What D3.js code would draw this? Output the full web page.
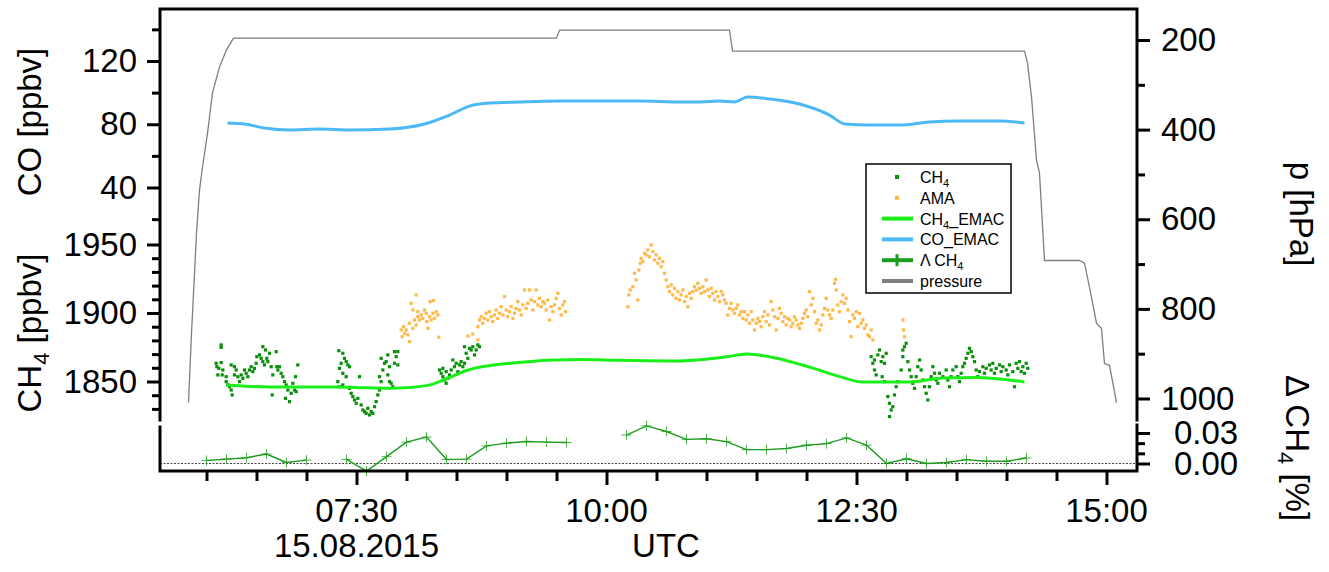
<!DOCTYPE html>
<html><head><meta charset="utf-8">
<script src="https://cdn.jsdelivr.net/npm/d3@7"></script>
<style>
html,body{margin:0;padding:0;background:#fff;}
svg{display:block;font-family:"Liberation Sans",Arial,sans-serif;}
</style></head><body>
<svg id="chart" width="1329" height="572"></svg>
<script>
// ---------------- DATA (time in minutes after 00:00 UTC, 15.08.2015) ----------------
const xTickLabels = ["07:30", "10:00", "12:30", "15:00"];
const dateLabel = "15.08.2015";
const coTicks = [40, 80, 120];
const coMinorTicks = [20, 60, 100, 140];
const ch4Ticks = [1850, 1900, 1950];
const ch4MinorTicks = [1830, 1840, 1860, 1870, 1880, 1890, 1910, 1920, 1930, 1940];
const pTicks = [200, 400, 600, 800, 1000];
const pMinorTicks = [300, 500, 700, 900];
const dTicks = [0.00, 0.03];
const dMinorTicks = [0.01, 0.02];
const legendLabels = ["CH4", "AMA", "CH4_EMAC", "CO_EMAC", "Λ CH4", "pressure"];

// pressure [hPa]
const pressure = [
  [349.2,1009],[351.0,855],[354.0,631],[355.8,535],[357.6,484],[360.6,408],[363.6,318],
  [367.8,260],[372.0,222],[376.2,196],[570.0,196],[571.8,178],[673.8,178],[675.6,225],
  [850.8,225],[852.6,251],[855.0,327],[858.0,468],[859.8,497],[862.8,692],[883.8,692],
  [886.8,698],[889.8,752],[894.0,832],[897.0,844],[898.8,922],[901.8,926],[906.0,1009]
];
// CO_EMAC [ppbv]
const coEmac = [
  [372.6,80.8],[382.8,80.2],[394.8,77.6],[409.8,76.4],[427.8,77.0],[445.8,76.4],[469.8,77.0],
  [490.8,80.2],[505.8,85.8],[517.8,91.5],[529.8,93.4],[547.8,94.1],[571.8,94.7],[595.8,94.7],
  [619.8,94.7],[643.8,94.1],[655.8,94.1],[667.8,94.7],[676.8,94.1],[684.6,97.2],[697.8,96.0],
  [715.8,92.8],[733.8,85.8],[742.8,80.2],[757.8,79.5],[775.8,79.5],[793.8,81.4],[811.8,82.0],
  [835.8,82.0],[850.8,80.8]
];
// CH4_EMAC [ppbv]
const ch4Emac = [
  [372.0,1847.5],[397.8,1846],[438.0,1846],[451.8,1845.5],[471.6,1845],[492.0,1847],[504.0,1852],
  [516.0,1858],[543.6,1863.5],[583.8,1866],[607.8,1865.5],[642.0,1865],[672.0,1868],[684.0,1870],
  [702.0,1867],[721.8,1860.5],[741.6,1853],[753.6,1849.6],[781.8,1849.6],[801.6,1852.5],
  [822.0,1853],[850.8,1849.6]
];
// Δ CH4 [%]  (null = no value)
const deltaCh4 = [
  [360,0.003],[372,0.0043],[384,0.0057],[396,0.0093],[408,0.001],[420,0.0033],[432,null],
  [444,0.004],[456,-0.0075],[468,0.0067],[480,0.021],[492,0.026],[504,0.004],[516,0.0043],
  [528,0.0173],[540,0.020],[552,0.0217],[564,0.021],[576,0.0207],[588,null],[600,null],
  [612,0.028],[624,0.037],[636,0.0315],[648,0.0237],[660,0.0243],[672,0.0215],[684,0.0136],
  [696,0.0136],[708,0.0148],[720,0.018],[732,0.0196],[744,0.0252],[756,0.018],[768,0.0],
  [780,0.0047],[792,0.0],[804,0.001],[816,0.0038],[828,0.0022],[840,0.0022],[852,0.0054]
];
// CH4 in-situ [ppbv]
const ch4Obs = [
  [368.8,1876.7],[368.8,1874.9],[365.8,1863.3],[366.2,1860.8],[367.4,1859.6],[368.8,1863.8],[369.8,1858.4],
  [366.8,1854.8],[369.4,1854.8],[371.8,1853.5],[371.8,1849.9],[372.8,1847.5],[373.8,1846.2],[374.8,1843.8],
  [375.4,1840.2],[374.8,1862.1],[376.8,1860.8],[377.8,1858.4],[376.8,1854.8],[378.8,1853.5],[380.8,1854.8],
  [379.8,1849.9],[381.8,1852.3],[382.8,1858.4],[383.8,1856.0],[384.8,1853.5],[385.8,1858.4],[386.8,1860.8],
  [387.8,1857.2],[388.8,1859.6],[389.8,1863.3],[390.2,1868.1],[391.8,1869.4],[393.8,1875.4],[392.8,1866.9],
  [393.8,1864.5],[394.8,1862.1],[395.4,1873.0],[396.2,1866.9],[396.8,1864.5],[397.8,1870.6],[398.8,1860.8],
  [399.8,1854.8],[399.4,1840.2],[401.8,1871.8],[402.2,1860.8],[402.8,1858.4],[403.8,1860.8],[404.8,1856.0],
  [405.8,1853.5],[406.8,1849.9],[407.8,1847.5],[408.8,1843.8],[407.4,1837.7],[409.8,1835.3],[410.8,1841.4],
  [411.8,1848.7],[412.8,1843.8],[413.8,1842.6],[413.4,1853.5],[414.8,1862.1],
  [439.4,1872.5],[441.8,1870.6],[442.8,1866.9],[443.8,1864.5],[444.8,1862.1],[445.8,1860.8],[440.8,1863.3],
  [439.8,1859.6],[441.8,1856.0],[443.8,1853.5],[438.8,1849.9],[439.8,1846.2],[441.8,1847.5],[445.8,1845.0],
  [446.8,1841.4],[447.8,1839.0],[448.8,1836.5],[450.8,1837.7],[451.8,1853.5],[449.8,1834.1],[452.8,1832.9],
  [453.8,1829.2],[454.8,1828.0],[455.8,1826.8],[456.8,1830.4],[457.8,1825.6],[458.8,1828.0],[459.8,1826.8],
  [460.8,1831.6],[461.8,1835.3],[462.8,1840.2],[463.8,1843.8],[464.8,1849.9],[463.8,1853.5],[465.8,1858.4],
  [466.8,1863.3],[464.8,1866.9],[467.8,1864.5],[468.8,1869.4],[469.8,1860.8],[468.8,1854.8],[470.8,1848.7],
  [471.8,1846.2],[472.8,1863.3],[473.8,1868.1],[474.8,1871.8],[472.8,1871.8],[474.8,1862.1],[469.8,1850.0],
  [499.8,1858.4],[500.8,1856.0],[501.8,1853.5],[502.8,1851.1],[501.8,1859.6],[503.8,1857.2],[504.8,1852.3],
  [505.8,1854.8],[506.8,1858.4],[507.8,1865.7],[508.8,1860.8],[509.8,1863.3],[510.8,1857.2],[511.8,1862.1],
  [512.8,1864.5],[513.8,1860.8],[514.8,1863.3],[515.8,1870.6],[514.8,1875.4],[516.8,1866.9],[517.8,1874.2],
  [518.8,1873.0],[519.8,1875.4],[520.8,1869.4],[521.8,1873.0],[522.8,1876.7],[523.8,1875.4],[503.8,1848.7],
  [758.8,1868.1],[759.8,1863.3],[760.8,1858.4],[761.8,1854.8],[760.8,1865.7],[762.8,1869.4],[763.8,1873.0],
  [764.8,1864.5],[765.8,1868.1],[766.8,1863.3],[767.8,1870.6],[765.4,1853.5],[766.8,1849.9],[768.8,1839.0],
  [769.8,1834.1],[770.8,1829.2],[769.8,1824.4],[771.8,1831.6],[772.8,1840.2],[773.8,1846.2],[774.8,1849.9],
  [776.8,1858.4],[777.8,1868.1],[778.8,1875.4],[779.8,1877.9],[777.8,1873.0],[780.8,1864.5],[781.8,1858.4],
  [782.8,1853.5],[783.8,1848.7],[784.8,1845.0],[785.8,1853.5],[786.8,1860.8],[787.8,1865.7],[788.8,1858.4],
  [789.8,1851.1],[790.8,1846.2],[791.8,1841.4],[792.8,1836.5],[793.8,1846.2],[794.8,1853.5],[795.8,1860.8],
  [796.8,1856.0],[797.8,1851.1],[798.8,1848.7],[799.8,1856.0],[801.8,1853.5],[803.8,1858.4],[804.8,1851.1],
  [805.8,1846.2],[806.8,1853.5],[807.8,1858.4],[809.8,1860.8],[810.8,1853.5],[811.8,1849.9],[812.8,1856.0],
  [813.8,1860.8],[814.8,1863.3],[815.8,1866.9],[816.8,1870.6],[817.8,1874.2],[818.8,1871.8],[819.8,1868.1],
  [820.8,1864.5],[821.8,1858.4],[822.8,1853.5],[823.8,1857.2],[825.8,1860.8],[826.8,1856.0],[827.8,1859.6],
  [829.8,1862.1],[830.8,1858.4],[831.8,1863.3],[832.8,1856.0],[833.8,1859.6],[835.8,1862.1],[836.8,1857.2],
  [837.8,1860.8],[839.8,1858.4],[840.8,1854.8],[841.8,1862.1],[843.8,1857.2],[844.8,1846.2],[845.8,1863.3],
  [846.8,1859.6],[847.8,1864.5],[848.8,1857.2],[849.8,1860.8],[850.8,1856.0],[851.8,1863.3],[852.8,1859.6]
];
// AMA [ppbv]
const amaObs = [
  [476.8,1887.6],[477.4,1882.7],[478.2,1890.0],[478.8,1885.2],[479.8,1887.6],[480.8,1884.0],[481.8,1879.1],
  [482.8,1907.1],[481.8,1892.5],[483.8,1888.8],[484.8,1894.9],[485.8,1913.2],[485.8,1891.3],[486.8,1897.3],
  [487.8,1894.9],[488.8,1898.6],[489.8,1896.1],[490.8,1902.2],[491.8,1899.8],[492.2,1893.7],[492.8,1888.8],
  [493.8,1897.3],[494.2,1908.3],[494.8,1894.9],[495.8,1899.8],[496.2,1909.0],[496.8,1896.1],[497.8,1901.0],
  [498.8,1898.6],[499.4,1882.3],[483.8,1902.2],[486.8,1901.0],
  [516.8,1883.2],[519.8,1884.7],[522.8,1880.3],[522.8,1890.0],[523.8,1894.9],[524.8,1897.3],[525.8,1892.5],
  [526.8,1896.1],[527.8,1899.8],[528.8,1894.9],[529.8,1901.0],[530.8,1897.3],[531.8,1893.7],[532.8,1898.6],
  [533.8,1902.2],[534.8,1896.1],[535.8,1899.8],[536.8,1904.6],[537.8,1898.6],[538.8,1912.0],[539.8,1902.2],
  [540.8,1897.3],[541.8,1901.0],[542.8,1904.6],[543.8,1896.1],[544.8,1899.8],[545.8,1903.4],[546.8,1908.3],
  [547.8,1902.2],[548.8,1898.6],[549.8,1905.9],[550.8,1916.8],[551.8,1903.4],[552.8,1907.1],[553.8,1916.8],
  [554.8,1909.5],[555.8,1902.2],[556.8,1908.3],[557.8,1916.8],[558.8,1905.9],[559.8,1910.7],[560.8,1904.6],
  [561.8,1908.3],[562.8,1907.1],[563.8,1902.2],[564.8,1909.5],[565.8,1894.9],[566.8,1904.6],[567.8,1901.0],
  [568.8,1905.9],[569.8,1910.7],[570.8,1914.4],[571.8,1903.4],[572.8,1898.6],[573.8,1905.9],[574.8,1908.3],
  [575.4,1901.0],
  [612.8,1904.6],[613.4,1913.2],[614.2,1916.8],[615.8,1919.2],[616.8,1929.0],[617.8,1924.1],[618.8,1909.5],
  [619.4,1931.4],[620.2,1936.3],[620.8,1939.9],[621.8,1937.5],[622.8,1943.6],[623.8,1942.4],[624.8,1946.0],
  [625.8,1941.1],[626.8,1949.7],[627.8,1944.8],[628.8,1938.7],[629.8,1942.4],[630.8,1936.3],[631.8,1939.9],
  [632.8,1933.8],[633.8,1937.5],[634.8,1929.0],[635.8,1924.1],[636.8,1919.2],[637.8,1915.6],[638.8,1920.5],
  [639.8,1913.2],[640.8,1918.0],[641.8,1910.7],[642.8,1915.6],[643.8,1909.5],[644.8,1913.2],[645.8,1916.8],
  [646.8,1908.3],[647.8,1912.0],[648.8,1904.6],[649.8,1914.4],[650.8,1910.7],[651.8,1915.6],[652.8,1919.2],
  [653.8,1916.8],[654.8,1921.7],[655.8,1918.0],[656.8,1914.4],[657.8,1919.2],[658.8,1915.6],[659.8,1924.1],
  [660.8,1916.8],[661.8,1912.0],[662.8,1918.0],[663.8,1914.4],[664.8,1909.5],[665.8,1915.6],[666.8,1912.0],
  [667.8,1908.3],[668.8,1915.6],[669.8,1913.2],[670.8,1909.5],[671.8,1907.1],[672.8,1898.6],[673.8,1903.4],
  [674.8,1907.1],[675.8,1902.2],[676.8,1899.8],[677.8,1903.4],[678.8,1905.9],[679.8,1898.6],[680.8,1901.0],
  [681.8,1896.1],[682.8,1901.0],[683.8,1894.9],[684.8,1898.6],[685.8,1892.5],[686.8,1901.0],[687.8,1894.9],
  [688.8,1887.6],[689.8,1892.5],[690.8,1896.1],[691.8,1893.7],[692.8,1890.0],[693.8,1897.3],[694.8,1901.0],
  [695.8,1893.7],[696.8,1898.6],[697.8,1891.3],[698.8,1908.3],[699.8,1902.2],[700.8,1897.3],[701.8,1887.6],
  [702.8,1896.1],[703.8,1903.4],[704.8,1899.8],[705.8,1893.7],[706.8,1897.3],[707.8,1891.3],[708.8,1896.1],
  [709.8,1894.9],[710.8,1890.0],[711.8,1892.5],[712.8,1897.3],[713.8,1894.9],[714.8,1891.3],[715.8,1888.8],
  [716.8,1892.5],[717.8,1896.1],[718.8,1899.8],[719.8,1902.2],[720.8,1897.3],[721.8,1915.6],[722.8,1905.9],
  [723.8,1910.7],[724.8,1901.0],[725.8,1892.5],[726.8,1894.9],[727.8,1887.6],[728.8,1891.3],[729.8,1898.6],
  [730.8,1903.4],[731.8,1910.7],[732.8,1902.2],[733.8,1898.6],[734.8,1896.1],[735.8,1902.2],[736.8,1921.7],
  [737.4,1924.6],[737.8,1916.8],[738.8,1905.9],[739.8,1901.0],[740.8,1908.3],[741.8,1913.2],[742.8,1907.1],
  [743.8,1910.7],[744.8,1902.2],[745.8,1893.7],[746.8,1882.7],[747.8,1898.6],[748.8,1896.1],[749.8,1901.0],
  [750.8,1890.0],[751.8,1899.8],[752.8,1892.5],[753.8,1894.9],[754.8,1888.8],[755.8,1891.3],[756.8,1884.0],
  [757.8,1882.7],[758.8,1887.6],[759.8,1880.3],[777.8,1894.9],[778.2,1887.6],[778.8,1882.7]
];

// ---------------- CHART ----------------
const svg = d3.select("#chart");
const FONT = 33;
const L = 160, R = 1137, T = 9, B = 471;
const base = Date.UTC(2015, 7, 15);
const toDate = m => new Date(base + m * 60000);
const parseT = s => { const [h, m] = s.split(":").map(Number); return toDate(h * 60 + m); };

const x = d3.scaleUtc().domain([toDate(360), toDate(900)]).range([206.5, 1106.5]);
const yCO = d3.scaleLinear().domain([40, 120]).range([187.5, 61]);
const yCH4 = d3.scaleLinear().domain([1850, 1950]).range([381.5, 244.5]);
const yP = d3.scaleLinear().domain([200, 1000]).range([40, 398.5]);
const yD = d3.scaleLinear().domain([0, 0.03]).range([463.5, 433]);

const C = {
  ch4: "#0a8f0a", ama: "#ffb84a", ch4Emac: "#1aef1a", coEmac: "#4cb8f5",
  delta: "#1c9c1c", pres: "#7f7f7f"
};

// zero line for delta
svg.append("line").attr("x1", L).attr("x2", R).attr("y1", yD(0)).attr("y2", yD(0))
  .attr("stroke", "#444").attr("stroke-width", 1).attr("stroke-dasharray", "2,1.5");

// pressure
svg.append("path").datum(pressure)
  .attr("d", d3.line().x(d => x(toDate(d[0]))).y(d => yP(d[1])))
  .attr("fill", "none").attr("stroke", C.pres).attr("stroke-width", 1.3);

// CO_EMAC
svg.append("path").datum(coEmac)
  .attr("d", d3.line().curve(d3.curveMonotoneX).x(d => x(toDate(d[0]))).y(d => yCO(d[1])))
  .attr("fill", "none").attr("stroke", C.coEmac).attr("stroke-width", 3);

// CH4 obs
svg.append("g").selectAll("rect").data(ch4Obs).join("rect")
  .attr("x", d => x(toDate(d[0])) - 1.6).attr("y", d => yCH4(d[1]) - 1.6)
  .attr("width", 3.2).attr("height", 3.2).attr("fill", C.ch4);
// AMA
svg.append("g").selectAll("rect").data(amaObs).join("rect")
  .attr("x", d => x(toDate(d[0])) - 1.6).attr("y", d => yCH4(d[1]) - 1.6)
  .attr("width", 3.2).attr("height", 3.2).attr("fill", C.ama);

// CH4_EMAC
svg.append("path").datum(ch4Emac)
  .attr("d", d3.line().curve(d3.curveMonotoneX).x(d => x(toDate(d[0]))).y(d => yCH4(d[1])))
  .attr("fill", "none").attr("stroke", C.ch4Emac).attr("stroke-width", 3);

// Delta CH4
svg.append("path").datum(deltaCh4)
  .attr("d", d3.line().defined(d => d[1] !== null).x(d => x(toDate(d[0]))).y(d => yD(d[1])))
  .attr("fill", "none").attr("stroke", C.delta).attr("stroke-width", 1.4);
svg.append("g").selectAll("path").data(deltaCh4.filter(d => d[1] !== null)).join("path")
  .attr("transform", d => `translate(${x(toDate(d[0]))},${yD(d[1])})`)
  .attr("d", "M-5,0H5M0,-5V5").attr("stroke", C.delta).attr("stroke-width", 1).attr("opacity", 0.75);

// ---------------- AXES ----------------
function styleAxis(g) {
  g.select(".domain").remove();
  g.selectAll(".tick line").attr("stroke", "#000").attr("stroke-width", 3);
  g.selectAll(".tick text").attr("font-size", FONT).attr("fill", "#000")
    .attr("font-family", '"Liberation Sans",Arial,sans-serif');
}
// left CO
svg.append("g").attr("transform", `translate(${L},0)`)
  .call(d3.axisLeft(yCO).tickValues(coTicks).tickSize(13).tickPadding(10).tickFormat(d3.format("d"))).call(styleAxis);
svg.append("g").attr("transform", `translate(${L},0)`)
  .call(d3.axisLeft(yCO).tickValues(coMinorTicks).tickSize(8).tickFormat("")).call(styleAxis);
// left CH4
svg.append("g").attr("transform", `translate(${L},0)`)
  .call(d3.axisLeft(yCH4).tickValues(ch4Ticks).tickSize(13).tickPadding(10).tickFormat(d3.format("d"))).call(styleAxis);
svg.append("g").attr("transform", `translate(${L},0)`)
  .call(d3.axisLeft(yCH4).tickValues(ch4MinorTicks).tickSize(8).tickFormat("")).call(styleAxis);
// right pressure
svg.append("g").attr("transform", `translate(${R},0)`)
  .call(d3.axisRight(yP).tickValues(pTicks).tickSize(13).tickPadding(11).tickFormat(d3.format("d"))).call(styleAxis);
svg.append("g").attr("transform", `translate(${R},0)`)
  .call(d3.axisRight(yP).tickValues(pMinorTicks).tickSize(8).tickFormat("")).call(styleAxis);
// right delta
svg.append("g").attr("transform", `translate(${R},0)`)
  .call(d3.axisRight(yD).tickValues(dTicks).tickSize(13).tickPadding(24).tickFormat(d3.format(".2f"))).call(styleAxis);
svg.append("g").attr("transform", `translate(${R},0)`)
  .call(d3.axisRight(yD).tickValues(dMinorTicks).tickSize(8).tickFormat("")).call(styleAxis);
// bottom time
const majorDates = xTickLabels.map(parseT);
const minorDates = d3.utcMinute.every(30).range(toDate(360), toDate(901))
  .filter(d => !majorDates.some(m => +m === +d));
svg.append("g").attr("transform", `translate(0,${B})`)
  .call(d3.axisBottom(x).tickValues(majorDates).tickSize(14).tickFormat("")).call(styleAxis);
svg.append("g").attr("transform", `translate(0,${B})`)
  .call(d3.axisBottom(x).tickValues(minorDates).tickSize(10).tickFormat("")).call(styleAxis);
svg.append("g").selectAll("text").data(majorDates).join("text")
  .attr("x", d => x(d)).attr("y", 522).attr("text-anchor", "middle").attr("font-size", FONT)
  .text(d => d3.utcFormat("%H:%M")(d));
svg.append("text").attr("x", x(majorDates[0])).attr("y", 557).attr("text-anchor", "middle")
  .attr("font-size", FONT).text(dateLabel);
svg.append("text").attr("x", 666).attr("y", 557).attr("text-anchor", "middle")
  .attr("font-size", FONT).text("UTC");

// frame
svg.append("path")
  .attr("d", `M${L},${T}H${R}M${L},${T}V420M${L},427V${B}M${R},${T}V420M${R},425V${B}M${L},${B}H${R}`)
  .attr("fill", "none").attr("stroke", "#000").attr("stroke-width", 3).attr("stroke-linecap", "square");

// axis titles
function subTitle(tx, ty, rot, pre, sub, post) {
  const t = svg.append("text").attr("transform", `translate(${tx},${ty}) rotate(${rot})`)
    .attr("text-anchor", "middle").attr("font-size", FONT);
  t.append("tspan").text(pre);
  if (sub) {
    t.append("tspan").attr("font-size", 22).attr("dy", 8).text(sub);
    t.append("tspan").attr("dy", -8).text(post);
  }
  return t;
}
subTitle(41, 122, -90, "CO [ppbv]");
subTitle(41, 333, -90, "CH", "4", " [ppbv]");
subTitle(1290, 214, 90, "p [hPa]");
subTitle(1286, 448, 90, "Δ CH", "4", " [%]");

// legend
const lg = svg.append("g");
lg.append("rect").attr("x", 866).attr("y", 164).attr("width", 145).attr("height", 129)
  .attr("fill", "#fff").attr("stroke", "#000").attr("stroke-width", 1.5);
const rowY = i => 177 + i * 20.8;
const types = ["dot", "dot", "line", "line", "cross", "line"];
const cols = [C.ch4, C.ama, C.ch4Emac, C.coEmac, C.delta, C.pres];
legendLabels.forEach((lab, i) => {
  const y = rowY(i);
  if (types[i] === "dot") {
    lg.append("rect").attr("x", 895).attr("y", y - 2).attr("width", 4).attr("height", 4).attr("fill", cols[i]);
  } else {
    lg.append("line").attr("x1", 882).attr("x2", 913).attr("y1", y).attr("y2", y)
      .attr("stroke", cols[i]).attr("stroke-width", 4);
    if (types[i] === "cross")
      lg.append("line").attr("x1", 897).attr("x2", 897).attr("y1", y - 6).attr("y2", y + 6)
        .attr("stroke", cols[i]).attr("stroke-width", 3);
  }
  const t = lg.append("text").attr("x", 920).attr("y", y + 6).attr("font-size", 16).attr("fill", "#000");
  const m = lab.match(/^(.*CH)4(.*)$/);
  if (m) {
    t.append("tspan").text(m[1]);
    t.append("tspan").attr("font-size", 11).attr("dy", 4).text("4");
    t.append("tspan").attr("dy", -4).text(m[2]);
  } else t.text(lab);
});
</script>
</body></html>
